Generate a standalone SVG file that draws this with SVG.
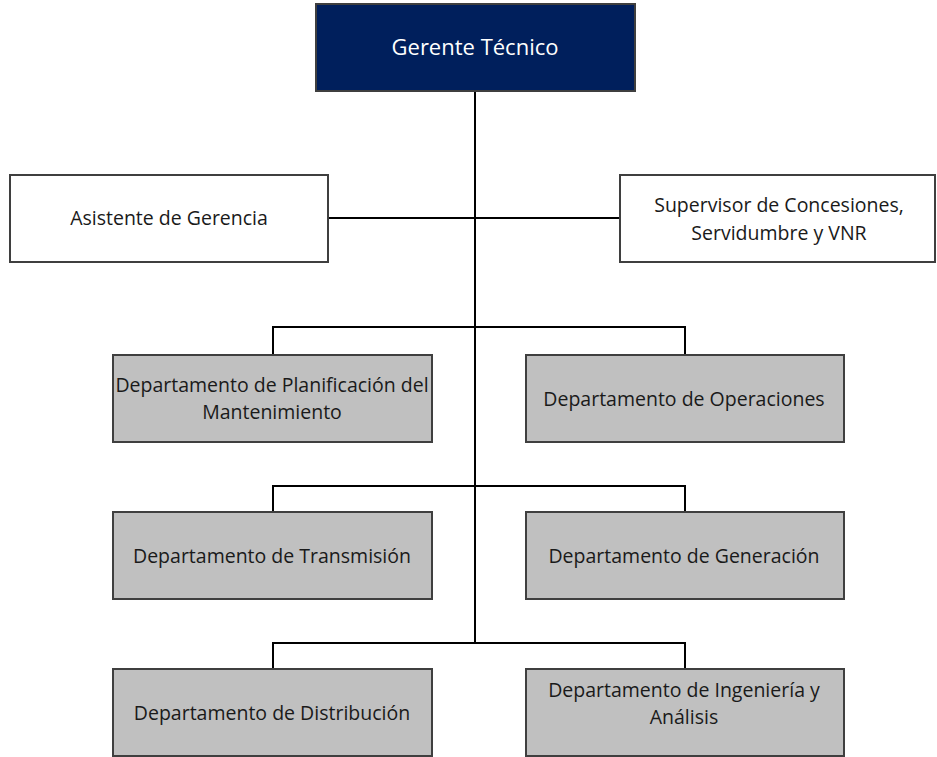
<svg xmlns="http://www.w3.org/2000/svg" width="937" height="757" viewBox="0 0 937 757">
<style>
.box{stroke:#3f3f3f;stroke-width:2}
.white{fill:#ffffff}
.gray{fill:#c0c0c0}
.navy{fill:#001f5c}
text{font-family:"Open Sans","Liberation Sans",sans-serif;font-size:19.5px;text-anchor:middle;fill:#1a1a1a}
.lt{fill:#ffffff;font-size:22px}
.conn{fill:none;stroke:#000000;stroke-width:2}
</style>
<rect width="937" height="757" fill="#ffffff"/>
<g id="connectors">
<path class="conn" d="M475 91 V643"/>
<path class="conn" d="M328 218 H620"/>
<path class="conn" d="M273 355 V327 H685 V355"/>
<path class="conn" d="M273 512 V486 H685 V512"/>
<path class="conn" d="M273 669 V643 H685 V669"/>
</g>
<g id="gerente">
<rect class="box navy" x="316" y="4" width="319" height="87"/>
<text class="lt" x="475" y="55">Gerente Técnico</text>
</g>
<g id="asistente">
<rect class="box white" x="10" y="175" width="318" height="87"/>
<text x="169" y="225">Asistente de Gerencia</text>
</g>
<g id="supervisor">
<rect class="box white" x="620" y="175" width="315" height="87"/>
<text x="779" y="212">Supervisor de Concesiones,</text>
<text x="779" y="240">Servidumbre y VNR</text>
</g>
<g id="planificacion">
<rect class="box gray" x="113" y="355" width="319" height="87"/>
<text x="272" y="392">Departamento de Planificación del</text>
<text x="272" y="419">Mantenimiento</text>
</g>
<g id="operaciones">
<rect class="box gray" x="526" y="355" width="318" height="87"/>
<text x="684" y="406">Departamento de Operaciones</text>
</g>
<g id="transmision">
<rect class="box gray" x="113" y="512" width="319" height="87"/>
<text x="272" y="563">Departamento de Transmisión</text>
</g>
<g id="generacion">
<rect class="box gray" x="526" y="512" width="318" height="87"/>
<text x="684" y="563">Departamento de Generación</text>
</g>
<g id="distribucion">
<rect class="box gray" x="113" y="669" width="319" height="87"/>
<text x="272" y="720">Departamento de Distribución</text>
</g>
<g id="ingenieria">
<rect class="box gray" x="526" y="669" width="318" height="87"/>
<text x="684" y="697">Departamento de Ingeniería y</text>
<text x="684" y="724">Análisis</text>
</g>
</svg>
